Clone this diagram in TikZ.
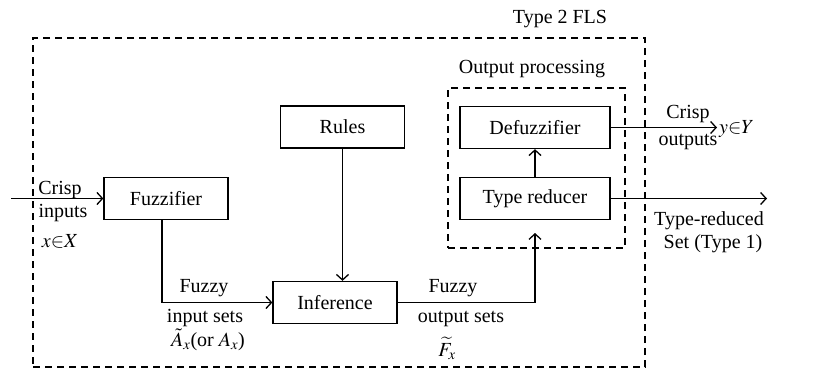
\documentclass[tikz,border=0pt]{standalone}
\usepackage{mathptmx}
\usepackage{fontspec}
\setmainfont{Liberation Serif}
\usetikzlibrary{arrows.meta}
\begin{document}
\begin{tikzpicture}[x=1pt,y=-1pt,
 every node/.style={font=\fontsize{20}{24}\selectfont},
 box/.style={draw, line width=1.3pt, minimum width=124pt, minimum height=42pt, inner sep=0pt},
 wbox/.style={box, minimum width=150pt},
 lbl/.style={anchor=base, inner sep=0pt},
 conn/.style={line width=1.3pt, -{Straight Barb[length=5.5pt,width=12pt]}},
 dashbox/.style={draw, line width=1.2pt, dash pattern=on 7pt off 5pt, inner sep=0pt}]
\useasboundingbox (0,0) rectangle (815,370);
% containers
\node[dashbox, minimum width=612pt, minimum height=329pt] (fls) at (339,202.5) {};
\node[dashbox, minimum width=177pt, minimum height=160pt] (op) at (536.5,168) {};
\node[lbl] (flslbl) at (560,23) {Type 2 FLS};
\node[lbl] (oplbl) at (532,73) {Output processing};
% blocks
\node[box] (fuzz) at (166,198.5) {Fuzzifier};
\node[box] (rules) at (342.5,127) {Rules};
\node[box] (inf) at (335,302.5) {Inference};
\node[wbox] (def) at (535,127.5) {Defuzzifier};
\node[wbox] (tr) at (535,198.5) {Type reducer};
% ends
\coordinate (in) at (11,198.5);
\coordinate (optip) at (535,233);
\coordinate (trend) at (767,198.5);
\coordinate (yend) at (717,127.5);
\node[anchor=west, inner sep=0pt] (y) at (719,129.5) {$y{\in}Y$};
% connectors
\draw[conn] (in) -- (fuzz.west);
\draw[conn] ([xshift=-4pt]fuzz.south) |- (inf.west);
\draw[conn] (rules.south) -- (rules.south |- inf.north);
\draw[conn] (inf.east) -| (optip);
\draw[conn] (tr.north) -- (def.south);
\draw[conn] (def.east) -- (yend);
\draw[conn] (tr.east) -- (trend);
% labels
\node[lbl] (l1) at (60,194) {Crisp};
\node[lbl] (l2) at (63,217) {inputs};
\node[lbl] (l3) at (60,247) {$x{\in}X$};
\node[lbl] (l4) at (204,292) {Fuzzy};
\node[lbl] (l5) at (205,322) {input sets};
\node[lbl] (l6) at (208,346) {$\tilde{A}_x$(or $A_x$)};
\node[lbl] (l7) at (453,292) {Fuzzy};
\node[lbl] (l8) at (461,322) {output sets};
\node[lbl] (l9) at (447,356) {$\widetilde{F}_x$};
\node[lbl] (l10) at (688,118) {Crisp};
\node[lbl] (l11) at (688,145) {outputs};
\node[lbl] (l12) at (709,225) {Type-reduced};
\node[lbl] (l13) at (713,248) {Set (Type 1)};
\end{tikzpicture}
\end{document}
